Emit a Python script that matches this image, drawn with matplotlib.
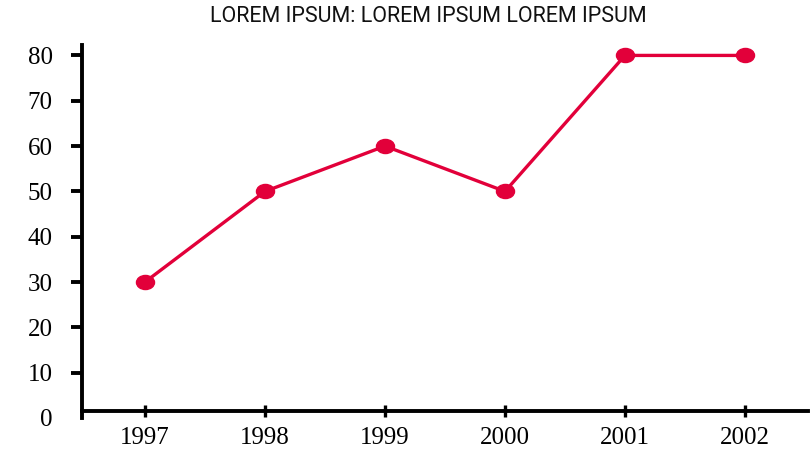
import matplotlib
matplotlib.use("Agg")
import matplotlib.pyplot as plt
from matplotlib.path import Path
from matplotlib.transforms import Affine2D

years = ["1997", "1998", "1999", "2000", "2001", "2002"]
values = [30, 50, 60, 50, 80, 80]
yticks = [0, 10, 20, 30, 40, 50, 60, 70, 80]
title = "LOREM IPSUM: LOREM IPSUM LOREM IPSUM"

W, H = 812, 449
fig = plt.figure(figsize=(W / 100, H / 100), dpi=100)
ax = fig.add_axes([82 / W, 1 - 418 / H, (808 - 82) / W, (418 - 45) / H])

red = "#E2003A"
ellipse = Path.unit_circle().transformed(Affine2D().scale(1.0, 0.78))
x = list(range(len(years)))
ax.plot(x, values, color=red, lw=2.4, marker=ellipse, markersize=13,
        markerfacecolor=red, markeredgecolor=red, solid_capstyle="round")

ax.set_xlim(-0.525, len(years) - 1 + 0.525)
ax.set_ylim(0, 82.3)
ax.set_xticks(x)
ax.set_xticklabels(years)
ax.set_yticks(yticks)

for s in ["top", "right"]:
    ax.spines[s].set_visible(False)
ax.spines["left"].set_linewidth(2.8)
ax.spines["bottom"].set_linewidth(2.8)
ax.spines["bottom"].set_position(("data", 1.55))

serif = ["Liberation Serif", "DejaVu Serif"]
ax.tick_params(axis="x", direction="inout", length=9, width=2.4, pad=7,
               labelsize=18)
ax.tick_params(axis="y", direction="out", length=8, width=2.8, pad=13,
               labelsize=18)
for lab in ax.get_xticklabels() + ax.get_yticklabels():
    lab.set_fontfamily(serif)
ax.yaxis.get_major_ticks()[0].tick1line.set_visible(False)

fig.text(428 / W, 1 - 17 / H, title, ha="center", va="center",
         fontsize=15.5, family=["Roboto", "DejaVu Sans"],
         color="#111111")

fig.savefig("out.png", dpi=100)
